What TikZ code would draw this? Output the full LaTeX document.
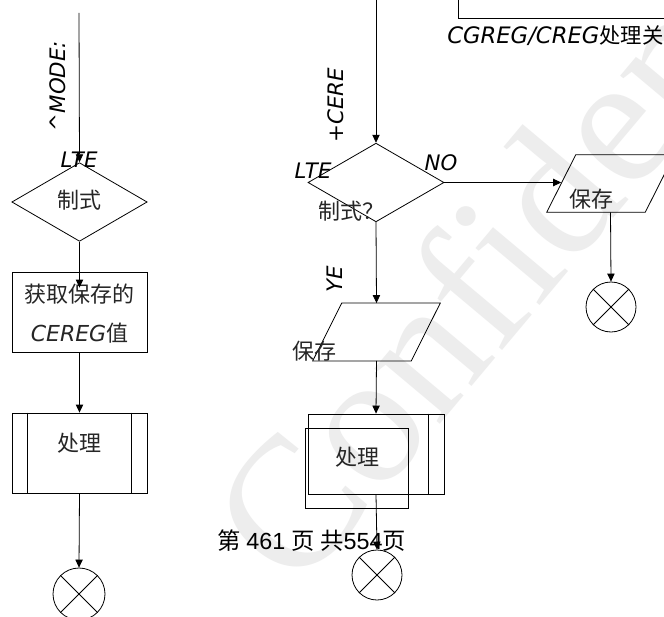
\documentclass[tikz,border=0pt]{standalone}
\usepackage{fontspec}
\setmainfont{Liberation Serif}
\newfontfamily\cjk{Noto Sans CJK SC}
\newfontfamily\arialf{Liberation Sans}
\newfontfamily\comic{DejaVu Sans}
\usetikzlibrary{arrows.meta,shapes.geometric}
\tikzset{
  ln/.style={draw=black, line width=0.6pt},
  arr/.style={ln, -{Triangle[length=6pt,width=5.5pt]}},
  cjkt/.style={font=\cjk\fontsize{16.5}{19}\selectfont, text=black!85, inner sep=0},
  ital/.style={font=\comic\itshape\fontsize{16}{19}\selectfont, inner sep=0},
  dia/.style={ln, diamond, inner sep=0, minimum width=101.5pt, minimum height=59pt},
  rectbox/.style={ln, rectangle, inner sep=0, minimum width=101.25pt, minimum height=60pt},
  parabody/.style={draw=none, rectangle, inner sep=0, minimum width=73.5pt, minimum height=43pt},
  endc/.style={ln, circle, inner sep=0, minimum size=37.5pt},
  wmark/.style={text=black!7, font=\fontsize{140}{140}\selectfont, inner sep=0}
}
\newcommand{\drawpara}[1]{%
  \draw[ln] ([xshift=10.9pt]#1.north west) -- ([xshift=10.9pt]#1.north east)
    -- ([xshift=-10.9pt]#1.south east) -- ([xshift=-10.9pt]#1.south west) -- cycle;}
\begin{document}
\begin{tikzpicture}[x=0.75pt,y=-0.75pt]
\clip (0,0) rectangle (664,617);
\fill[white] (0,0) rectangle (664,617);
% watermark
\node[wmark, rotate=50, anchor=base west] (wm) at (297,595) {Confidential};

% top right box
\node[ln, rectangle, inner sep=0, minimum width=180pt, minimum height=60pt, anchor=south west] (tb) at (458,19) {};
\node[font=\comic\itshape\fontsize{17}{19}\selectfont, inner sep=0, anchor=west] (tbt) at (447,36) {CGREG/CREG{\cjk\upshape\fontsize{16}{18}\selectfont 处理关}};

% left column
\coordinate (ls) at (79,13);
\node[dia] (ld) at (79.5,202) {};
\node[cjkt] (ldt) at (79.5,200) {制式};
\node[rectbox] (lb) at (79.5,312) {};
\node[cjkt] (lbt1) at (79.5,294) {获取保存的};
\node[cjkt] (lbt2) at (79.5,333) {{\comic\itshape CEREG}值};
\node[rectbox] (lp) at (79.5,453) {};
\draw[ln] ([xshift=12pt]lp.north west) -- ([xshift=12pt]lp.south west);
\draw[ln] ([xshift=-12pt]lp.north east) -- ([xshift=-12pt]lp.south east);
\node[cjkt] (lpt) at (79.5,443) {处理};
\node[endc, minimum size=39pt] (lc) at (79,594) {};
\draw[ln] (lc.north east) -- (lc.south west) (lc.north west) -- (lc.south east);

\draw[arr] (ls) -- (ld.north);
\draw[arr] (ld.south) -- ([yshift=-12pt]lb.north);
\draw[arr] (lb.south) -- (lp.north);
\draw[arr] (lp.south) -- (lc.north);

\node[ital, rotate=90] (lmode) at (58,86) {\textasciicircum MODE:};
\node[ital] (llte) at (79,160) {LTE};

% middle column
\coordinate (ms) at (376,-2);
\node[dia, minimum width=102pt] (md) at (376,182.5) {};
\node[cjkt] (mdt) at (351,211) {制式？};
\node[parabody] (mpa) at (376.5,332) {};
\drawpara{mpa}
\node[cjkt] (mpat) at (314,351) {保存};
\node[rectbox, minimum width=102pt] (mproc) at (376,454) {};
\draw[ln] ([xshift=-12pt]mproc.north east) -- ([xshift=-12pt]mproc.south east);
\node[ln, rectangle, inner sep=0, minimum width=77.25pt, minimum height=60pt] (mproc2) at (356.5,468) {};
\node[cjkt] (mproct) at (357,457) {处理};
\node[endc] (mc) at (377,575) {};
\draw[ln] (mc.north east) -- (mc.south west) (mc.north west) -- (mc.south east);

\draw[arr] (ms) -- (md.north);
\draw[arr] (md.south) -- (mpa.north);
\draw[arr] (mpa.south) -- (mproc.north);
\draw[arr] (mproc.south) -- (mc.north);

\node[ital, rotate=90] (mcere) at (336,105) {+CERE};
\node[ital] (mlte) at (313,171) {LTE};
\node[ital] (mno) at (441,163) {NO};
\node[ital, rotate=90] (mye) at (335,279) {YE};

% right column
\node[parabody, minimum height=42.75pt] (rpa) at (610.5,183.5) {};
\drawpara{rpa}
\node[cjkt] (rpat) at (591,199) {保存};
\node[endc] (rc) at (611,307) {};
\draw[ln] (rc.north east) -- (rc.south west) (rc.north west) -- (rc.south east);
\draw[arr] (md.east) -- (md.east -| rpa.west);
\draw[arr] (rpa.south) -- (rc.north);

% footer
\node[inner sep=0, font=\fontsize{17.5}{20}\selectfont] (foot) at (311.5,541)
  {{\cjk 第} {\arialf 461} {\cjk 页} {\cjk 共}{\arialf 554}{\cjk 页}};
\end{tikzpicture}
\end{document}
